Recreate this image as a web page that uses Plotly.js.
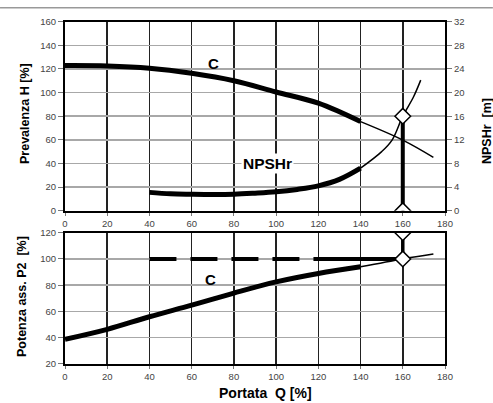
<!DOCTYPE html>
<html>
<head>
<meta charset="utf-8">
<script src="https://cdn.plot.ly/plotly-3.0.1.min.js"></script>
<style>html,body{margin:0;padding:0;background:#fff;}#chart{width:493px;height:403px;}</style>
</head>
<body>
<div id="chart"></div>
<script>
// ---- data ----
const flowH = [0, 20, 40, 60, 80, 100, 120, 140, 160, 174.5];
const headPct = [122.8, 122.5, 120.6, 116.3, 110, 100.5, 91, 75.4, 59.8, 45.2];

const flowN = [40, 50, 60, 70, 80, 90, 100, 110, 120, 130, 140, 150, 155, 160, 165, 168.5];
const npshM = [3.1, 2.85, 2.78, 2.74, 2.78, 2.96, 3.2, 3.6, 4.2, 5.3, 7.2, 10, 12, 16, 19.2, 22.1];

const flowP = [0, 20, 40, 60, 80, 100, 120, 140, 160, 174.5];
const powerPct = [38.8, 46.4, 56, 64.8, 74, 82.5, 88.9, 94, 100, 103.7];

const dutyQ = 160;
const dutyNpsh = [0, 16];
const dutyPower = [100, 120];
const refQ = [40, 160];
const refPower = [100, 100];
const refSolidQ = [118, 160];
const operatingLimitQ = 140;

const xTicks = [0, 20, 40, 60, 80, 100, 120, 140, 160, 180];

// ---- helpers ----
function part(xs, ys, keep) {
  const ox = [], oy = [];
  xs.forEach((x, i) => { if (keep(x)) { ox.push(x); oy.push(ys[i]); } });
  return {x: ox, y: oy};
}
const thick = x => x <= operatingLimitQ;
const thin = x => x >= operatingLimitQ;

const FONT = 'Liberation Sans, Arial, sans-serif';
const diamond = {symbol: 'diamond', size: 12, color: '#fff', line: {color: '#000', width: 1.5}};

const hThick = part(flowH, headPct, thick), hThin = part(flowH, headPct, thin);
const nThick = part(flowN, npshM, thick), nThin = part(flowN, npshM, thin);
const pThick = part(flowP, powerPct, thick), pThin = part(flowP, powerPct, thin);

const traces = [
  {x: hThick.x, y: hThick.y, xaxis: 'x', yaxis: 'y', mode: 'lines', line: {color: '#000', width: 5, shape: 'spline'}},
  {x: hThin.x, y: hThin.y, xaxis: 'x', yaxis: 'y', mode: 'lines', line: {color: '#000', width: 1.5, shape: 'spline'}},
  {x: nThick.x, y: nThick.y, xaxis: 'x', yaxis: 'y2', mode: 'lines', line: {color: '#000', width: 5, shape: 'spline'}},
  {x: nThin.x, y: nThin.y, xaxis: 'x', yaxis: 'y2', mode: 'lines', line: {color: '#000', width: 1.5, shape: 'spline'}},
  {x: [dutyQ, dutyQ], y: dutyNpsh, xaxis: 'x', yaxis: 'y2', mode: 'lines+markers', line: {color: '#000', width: 4}, marker: diamond},
  {x: pThick.x, y: pThick.y, xaxis: 'x2', yaxis: 'y3', mode: 'lines', line: {color: '#000', width: 5, shape: 'spline'}},
  {x: pThin.x, y: pThin.y, xaxis: 'x2', yaxis: 'y3', mode: 'lines', line: {color: '#000', width: 1.5, shape: 'spline'}},
  {x: refQ, y: refPower, xaxis: 'x2', yaxis: 'y3', mode: 'lines', line: {color: '#000', width: 4, dash: '27px,14px'}},
  {x: refSolidQ, y: refPower, xaxis: 'x2', yaxis: 'y3', mode: 'lines', line: {color: '#000', width: 4}},
  {x: [dutyQ, dutyQ], y: dutyPower, xaxis: 'x2', yaxis: 'y3', mode: 'lines+markers', line: {color: '#000', width: 3.5}, marker: diamond}
];

const tickFont = {family: FONT, size: 9.5, color: '#444'};
const xBase = {
  range: [0, 180], tickvals: xTicks, ticktext: xTicks.map(String),
  showgrid: true, gridcolor: '#222', gridwidth: 1.6, zeroline: false,
  showline: true, linecolor: '#000', linewidth: 2, mirror: true,
  ticks: 'outside', ticklen: 3, tickcolor: '#777', tickfont: tickFont, fixedrange: true
};
const yBase = {
  showgrid: true, gridcolor: '#a8a8a8', gridwidth: 1.5, zeroline: false,
  showline: true, linecolor: '#000', linewidth: 2, mirror: true,
  ticks: 'outside', ticklen: 5, tickcolor: '#777', tickfont: tickFont, fixedrange: true
};

const bold = (s) => ({family: FONT, size: s, color: '#000', weight: 'bold'});
const label = (o, s) => Object.assign({xref: 'paper', yref: 'paper', xanchor: 'center', yanchor: 'middle', showarrow: false, font: bold(s)}, o);

const layout = {
  width: 493, height: 403,
  margin: {l: 65, r: 48, t: 0, b: 0},
  paper_bgcolor: '#fff', plot_bgcolor: '#fff',
  showlegend: false,
  xaxis: Object.assign({}, xBase, {anchor: 'y', domain: [0, 1]}),
  yaxis: Object.assign({}, yBase, {domain: [0.4772, 0.9462], range: [0, 160], dtick: 20, anchor: 'x'}),
  yaxis2: Object.assign({}, yBase, {overlaying: 'y', side: 'right', range: [0, 32], dtick: 4, showgrid: false, anchor: 'x'}),
  xaxis2: Object.assign({}, xBase, {anchor: 'y3', domain: [0, 1]}),
  yaxis3: Object.assign({}, yBase, {domain: [0.0968, 0.4226], range: [20, 120], dtick: 20, anchor: 'x2'}),
  shapes: [
    {type: 'line', xref: 'paper', yref: 'paper', x0: -0.171, x1: 1.126, y0: 0.981, y1: 0.981, line: {color: '#999', width: 1.5}}
  ],
  annotations: [
    label({text: 'Prevalenza H [%]', x: (25 - 65) / 380, y: 1 - 114 / 403, textangle: -90}, 12.5),
    label({text: 'NPSHr  [m]', x: (487 - 65) / 380, y: 1 - 131 / 403, textangle: -90}, 12.5),
    label({text: 'Potenza ass. P2  [%]', x: (22 - 65) / 380, y: 1 - 297 / 403, textangle: -90}, 12.5),
    label({text: 'Portata  Q [%]', x: (265 - 65) / 380, y: 1 - 393 / 403}, 14),
    {text: 'C', xref: 'x', yref: 'y', x: 70.5, y: 125, showarrow: false, xanchor: 'center', yanchor: 'middle', font: bold(15)},
    {text: 'NPSHr', xref: 'x', yref: 'y', x: 96, y: 40, showarrow: false, xanchor: 'center', yanchor: 'middle', bgcolor: '#fff', font: bold(15.5)},
    {text: 'C', xref: 'x2', yref: 'y3', x: 69, y: 84, showarrow: false, xanchor: 'center', yanchor: 'middle', font: bold(15)}
  ]
};

Plotly.newPlot('chart', traces, layout, {displayModeBar: false, staticPlot: true});
</script>
</body>
</html>
